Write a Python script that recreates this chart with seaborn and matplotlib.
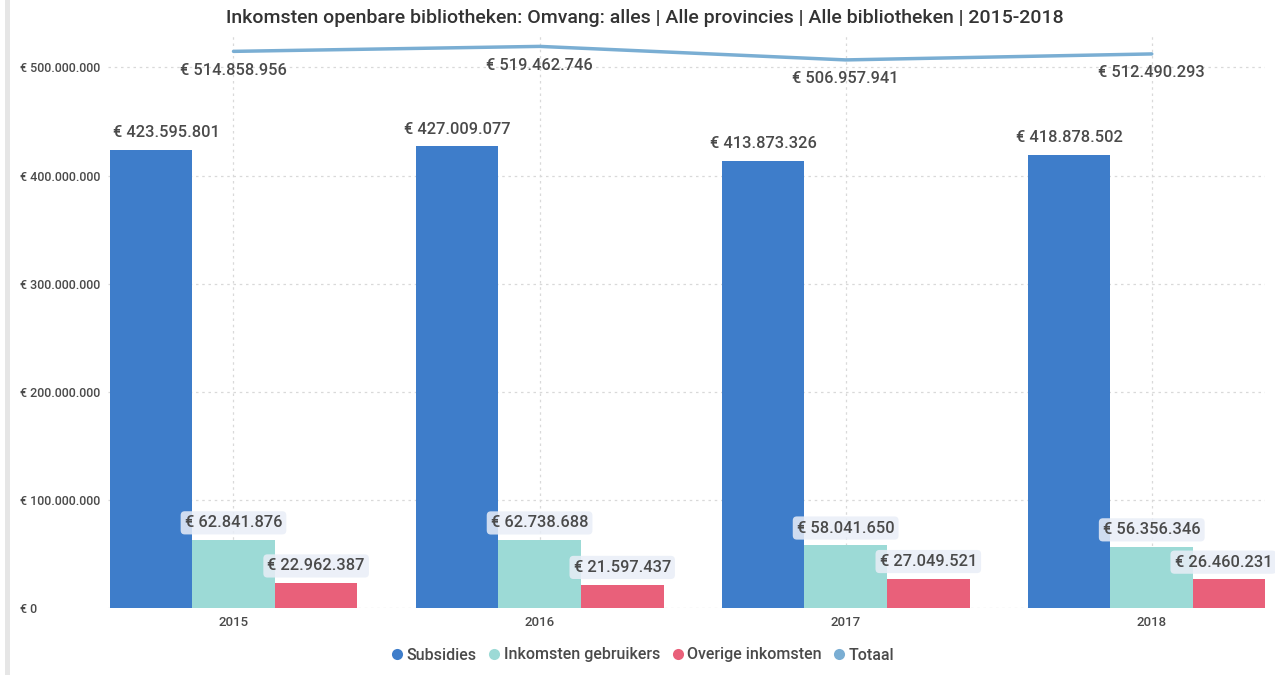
import numpy as np
import pandas as pd
import matplotlib
matplotlib.use("Agg")
import matplotlib.pyplot as plt
from matplotlib.lines import Line2D
from matplotlib.patches import Rectangle
import seaborn as sns

# data
years = ["2015", "2016", "2017", "2018"]
subsidies = [423595801, 427009077, 413873326, 418878502]
gebruikers = [62841876, 62738688, 58041650, 56356346]
overige = [22962387, 21597437, 27049521, 26460231]
totaal = [514858956, 519462746, 506957941, 512490293]
series = ["Subsidies", "Inkomsten gebruikers", "Overige inkomsten"]
yticks = [0, 100e6, 200e6, 300e6, 400e6, 500e6]

colors = {"Subsidies": "#3E7DCA", "Inkomsten gebruikers": "#9CDAD6",
          "Overige inkomsten": "#E9607A", "Totaal": "#7AAED3"}
text_grey = "#4a4a4a"
# small horizontal nudges of labels near the figure edges
blue_nudge = [0.05, 0, 0, 0]
red_nudge = [0, 0, 0, -0.036]


def eur(v):
    return "€ " + f"{int(v):,}".replace(",", ".")


df = pd.DataFrame({
    "jaar": years * 3,
    "reeks": np.repeat(series, len(years)),
    "waarde": subsidies + gebruikers + overige,
})

sns.set_theme(style="white")
plt.rcParams["font.family"] = ["Roboto", "DejaVu Sans"]

fig = plt.figure(figsize=(12.75, 6.75), dpi=100)
ax = fig.add_axes([108 / 1275, 67 / 675, (1265 - 108) / 1275, (608 - 35) / 675])

sns.barplot(data=df, x="jaar", y="waarde", hue="reeks", hue_order=series,
            palette=colors, width=0.81, saturation=1, linewidth=0,
            ax=ax, legend=False)
sns.lineplot(x=np.arange(len(years)), y=totaal, color=colors["Totaal"],
             linewidth=2.5, ax=ax)

ax.set_ylim(0, 530e6)
ax.set_xlim(-0.41, 3.37)
ax.set_yticks(yticks)
ax.set_yticklabels([eur(v) for v in yticks])
ax.set_xlabel("")
ax.set_ylabel("")
for s in ax.spines.values():
    s.set_visible(False)
ax.grid(True, axis="both", linestyle=(0, (2, 3)), color="#d9d9d9", linewidth=0.9)
ax.set_axisbelow(True)
ax.tick_params(axis="y", length=0, pad=63, labelsize=9, labelcolor=text_grey)
ax.tick_params(axis="x", length=0, pad=6, labelsize=9.5, labelcolor=text_grey)
for lab in ax.get_yticklabels():
    lab.set_horizontalalignment("left")
    lab.set_fontweight("medium")
for lab in ax.get_xticklabels():
    lab.set_fontweight("medium")

# data labels
bw = 0.81 / 3
box = dict(boxstyle="round,pad=0.25", fc="#e9eef7", ec="none", alpha=0.85)
lbl = dict(fontsize=11.8, color=text_grey, fontweight="medium")
for i in range(len(years)):
    ax.text(i - bw + blue_nudge[i], subsidies[i] + 9e6, eur(subsidies[i]),
            ha="center", va="bottom", **lbl)
    ax.text(i, gebruikers[i] + 9e6, eur(gebruikers[i]), ha="center",
            va="bottom", bbox=box, **lbl)
    ax.text(i + bw + red_nudge[i], overige[i] + 9e6, eur(overige[i]),
            ha="center", va="bottom", bbox=box, **lbl)
    ax.text(i, totaal[i] - 17.5e6, eur(totaal[i]), ha="center", va="center",
            **lbl)

fig.text(645 / 1275, 1 - 18 / 675, "Inkomsten openbare bibliotheken: Omvang: alles | "
         "Alle provincies | Alle bibliotheken | 2015-2018",
         ha="center", va="center", fontsize=14, color="#333333",
         fontweight="medium")

# grey strip at the left edge
fig.patches.append(Rectangle((5 / 1275, 0), 5 / 1275, 1, transform=fig.transFigure,
                             facecolor="#e6e6e6", edgecolor="none"))

handles = [Line2D([], [], marker="o", linestyle="none", markersize=8,
                  markerfacecolor=colors[k], markeredgecolor="none")
           for k in series + ["Totaal"]]
fig.legend(handles, series + ["Totaal"], loc="center", ncol=4,
           bbox_to_anchor=(641 / 1275, 1 - 655 / 675), frameon=False,
           prop={"size": 11.5, "weight": "medium"}, handletextpad=0.0,
           columnspacing=0.5, handlelength=1.2, labelcolor=text_grey)

fig.savefig("out.png", dpi=100)
